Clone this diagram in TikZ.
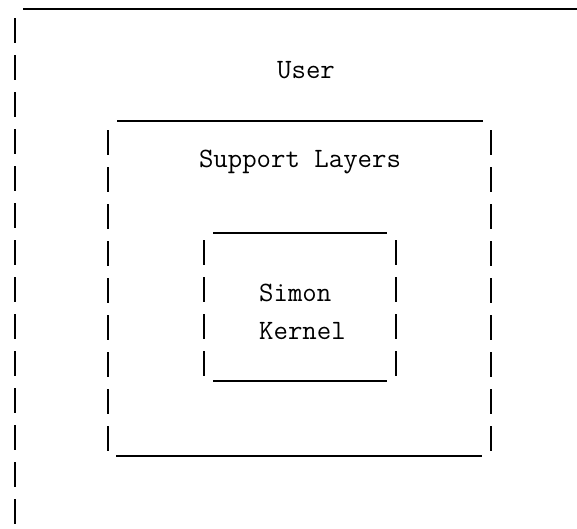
\documentclass[tikz,border=0pt]{standalone}
\usepackage{tikz}

\tikzset{
  rule/.style={line width=2.5pt},
  sidedash/.style={line width=2.2pt, dash pattern=on 25pt off 12pt},
  boxtext/.style={font=\ttfamily\fontsize{28}{38}\selectfont, inner sep=0pt}
}

\begin{document}
\begin{tikzpicture}[x=1pt,y=-1pt]
\useasboundingbox (0,0) rectangle (577,528);

% outer layer: user
\draw[rule] (23,9) -- (577,9);
\draw[sidedash] (15,18) -- (15,525);
\node[boxtext, anchor=base] (user) at (306,78) {User};

% support layers
\draw[rule] (117,121) -- (483,121);
\draw[rule] (116,456) -- (482,456);
\draw[sidedash] (108,130) -- (108,452);
\draw[sidedash] (491,130) -- (491,452);
\node[boxtext, anchor=base] (support) at (300,167) {Support Layers};

% kernel
\draw[rule] (213,233) -- (387,233);
\draw[rule] (213,381) -- (387,381);
\draw[sidedash] (204,240) -- (204,378);
\draw[sidedash] (396,240) -- (396,378);
\node[boxtext, anchor=base west] (simon) at (259,301) {Simon};
\node[boxtext, anchor=base west] (kernel) at (259,339) {Kernel};
\end{tikzpicture}
\end{document}
